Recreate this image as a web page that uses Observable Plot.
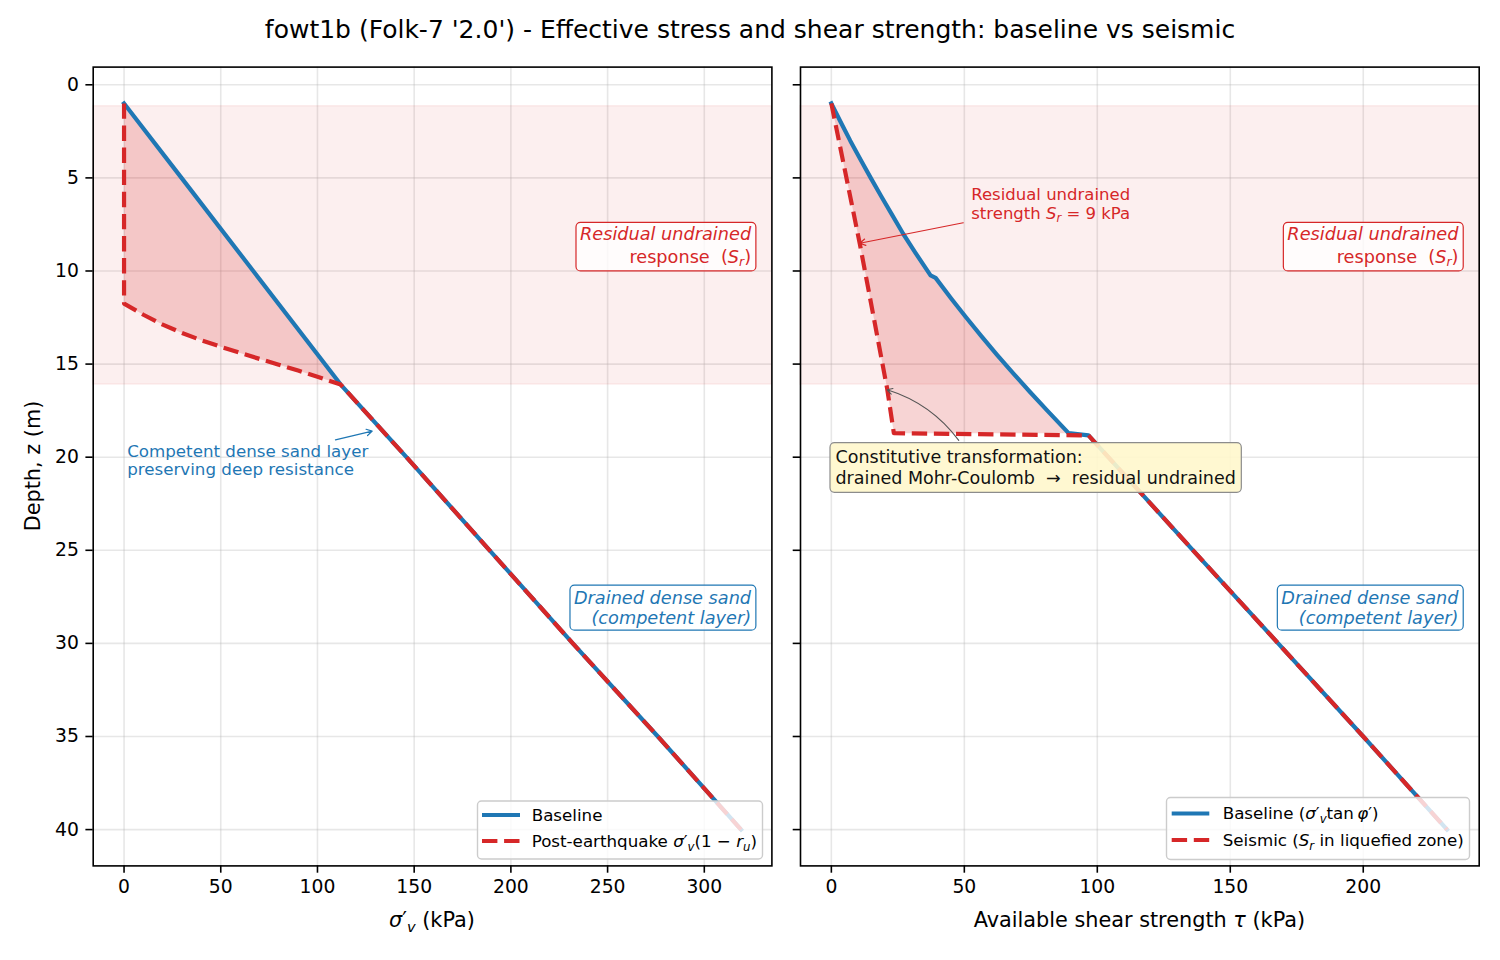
<!DOCTYPE html>
<html>
<head>
<meta charset="utf-8">
<script src="https://cdn.jsdelivr.net/npm/d3@7"></script>
<script src="https://cdn.jsdelivr.net/npm/@observablehq/plot@0.6"></script>
<style>
  body { margin: 0; background: #fff; font-family: "DejaVu Sans", sans-serif; }
  #fig { position: relative; width: 1500px; height: 960px; overflow: hidden; }
  #title { position: absolute; left: 0; top: 15px; width: 1500px; text-align: center;
           font-size: 25px; line-height: 30px; color: #000; }
  .panel { position: absolute; top: 0; }
</style>
</head>
<body>
<div id="fig">
  <div id="title">fowt1b (Folk-7 '2.0') - Effective stress and shear strength: baseline vs seismic</div>
</div>
<script>
// ---- profile data (depth in m, stresses in kPa) ----
const depthSigma    = [1, 5, 10, 16.1, 20, 25, 30, 35, 40];
const sigmaBaseline = [0, 29.7, 66.8, 112, 146, 189, 232, 276, 319];

// post-earthquake sigma'_v (1 - r_u) inside the liquefiable layer
const depthPost = [1, 11.75, 12.35, 12.88, 13.33, 13.72, 14.07, 14.4, 14.72, 15.03, 15.35, 15.68, 16.1];
const sigmaPost = [0, 0, 10, 20, 30, 40, 50, 60, 70, 80, 90, 100, 112];

// drained shear strength sigma'_v tan(phi')
const depthTau    = [1, 2, 3, 4, 5, 6, 7, 8, 9, 10.24, 10.37, 11.5, 12.5, 13.5, 14.5, 15.5, 16.5, 17.5, 18.71, 18.83, 25, 30, 35, 40];
const tauBaseline = [0, 3.5, 7.1, 10.9, 14.8, 18.8, 22.9, 27.0, 31.5, 37.3, 39.2, 45.2, 50.7, 56.4, 62.3, 68.4, 74.7, 81.2, 89.2, 96.7, 136, 168, 200, 231.5];

// seismic strength in the liquefied zone
const depthSeis = [1, 8.54, 16.33, 18.71];
const tauSeis   = [0, 10.7, 21, 23.5];

// liquefiable layer extent
const liqZone = [1.15, 16.1];

const depthTicks = [0, 5, 10, 15, 20, 25, 30, 35, 40];
const sigmaTicks = [0, 50, 100, 150, 200, 250, 300];
const tauTicks   = [0, 50, 100, 150, 200];

// ---- styling ----
const BLUE = "#1f77b4", RED = "#d62728";
const FONT = "'DejaVu Sans', sans-serif";
const H = 960, MT = 66.6, MB = 94.6;
const yDomain = [-0.95, 41.95];
const LW = 4.2, DASH = "15.4,6.7";
const NS = "http://www.w3.org/2000/svg";

const profile = (zs, vs) => zs.map((z, i) => ({z, v: vs[i]}));

const baseL = profile(depthSigma, sigmaBaseline);
const zPostEnd = depthPost[depthPost.length - 1];
const postL = profile(depthPost, sigmaPost).concat(baseL.filter(d => d.z > zPostEnd));
const ringL = baseL.filter(d => d.z <= zPostEnd).concat(profile(depthPost, sigmaPost).reverse());

const baseR = profile(depthTau, tauBaseline);
const zSeisEnd = depthSeis[depthSeis.length - 1];
const seisR = profile(depthSeis, tauSeis).concat(baseR.filter(d => d.z > zSeisEnd));
const ringR = baseR.filter(d => d.z <= zSeisEnd).concat(profile(depthSeis, tauSeis).reverse());

function backdrop(xDomain, xTicks) {
  return [
    Plot.gridX(xTicks, {stroke: "#b0b0b0", strokeOpacity: 0.3, strokeWidth: 1.6}),
    Plot.gridY(depthTicks, {stroke: "#b0b0b0", strokeOpacity: 0.3, strokeWidth: 1.6}),
    Plot.rect([liqZone], {x1: xDomain[0], x2: xDomain[1], y1: d => d[0], y2: d => d[1],
      fill: RED, fillOpacity: 0.075, stroke: RED, strokeOpacity: 0.07, strokeWidth: 1.5})
  ];
}

function curves(ring, base, alt) {
  return [
    Plot.line(ring, {x: "v", y: "z", fill: RED, fillOpacity: 0.2, stroke: "none"}),
    Plot.line(base, {x: "v", y: "z", stroke: BLUE, strokeWidth: LW, strokeLinejoin: "round", strokeLinecap: "square"}),
    Plot.line(alt, {x: "v", y: "z", stroke: RED, strokeWidth: LW, strokeDasharray: DASH,
      strokeLinejoin: "round", strokeLinecap: "butt"})
  ];
}

function axes(xTicks, yLabels) {
  return [
    Plot.frame({stroke: "#000", strokeWidth: 1.6}),
    Plot.axisX(xTicks, {tickSize: 7.3, tickPadding: 6, strokeWidth: 1.6, fontSize: 18.75, label: null}),
    Plot.axisY(depthTicks, {tickSize: 7.3, tickPadding: 7, strokeWidth: 1.6, fontSize: 18.75, label: null,
      tickFormat: yLabels ? (d => String(d)) : (() => "")})
  ];
}

const boxText = (x, y, lines, color, lh) => Plot.text([{x, y, t: lines}], {
  x: "x", y: "y", text: "t", textAnchor: "end", lineAnchor: "middle", fontStyle: "italic",
  fontSize: 17.7, lineHeight: lh, fill: color
});

// ---- left panel: effective vertical stress ----
const xDomL = [-15.95, 334.95];
const left = Plot.plot({
  width: 785, height: H, marginLeft: 92.7, marginRight: 13.6, marginTop: MT, marginBottom: MB,
  style: {fontFamily: FONT, fontSize: "18.75px", color: "#000", background: "transparent", overflow: "visible"},
  x: {domain: xDomL, label: null},
  y: {domain: yDomain, reverse: true, label: null},
  marks: [
    ...backdrop(xDomL, sigmaTicks),
    ...curves(ringL, baseL, postL),
    Plot.text([{x: 1.6, y: 20.18, t: "Competent dense sand layer\npreserving deep resistance"}], {
      x: "x", y: "y", text: "t", textAnchor: "start", lineAnchor: "middle", fontSize: 16.7,
      lineHeight: 1.02, fill: BLUE}),
    Plot.arrow([{x1: 109.3, y1: 19.07, x2: 128.3, y2: 18.6}], {
      x1: "x1", y1: "y1", x2: "x2", y2: "y2", stroke: BLUE, strokeWidth: 1.2, headLength: 8}),
    boxText(324.2, 8.55, "Residual undrained\nresponse  (Sr)", RED, 1.28),
    boxText(324.2, 28.06, "Drained dense sand\n(competent layer)", BLUE, 1.13),
    ...axes(sigmaTicks, true)
  ]
});

// ---- right panel: available shear strength ----
const xDomR = [-11.6, 243.6];
const right = Plot.plot({
  width: 715, height: H, marginLeft: 15, marginRight: 21.3, marginTop: MT, marginBottom: MB,
  style: {fontFamily: FONT, fontSize: "18.75px", color: "#000", background: "transparent", overflow: "visible"},
  x: {domain: xDomR, label: null},
  y: {domain: yDomain, reverse: true, label: null},
  marks: [
    ...backdrop(xDomR, tauTicks),
    ...curves(ringR, baseR, seisR),
    Plot.text([{x: 52.6, y: 6.35, t: "Residual undrained\nstrength Sr = 9 kPa"}], {
      x: "x", y: "y", text: "t", textAnchor: "start", lineAnchor: "middle", fontSize: 16.5,
      lineHeight: 1.15, fill: RED}),
    Plot.arrow([{x1: 49.6, y1: 7.41, x2: 10.7, y2: 8.51}], {
      x1: "x1", y1: "y1", x2: "x2", y2: "y2", stroke: RED, strokeWidth: 1.2, headLength: 8}),
    Plot.arrow([{x1: 47.9, y1: 19.1, x2: 21.0, y2: 16.38}], {
      x1: "x1", y1: "y1", x2: "x2", y2: "y2", stroke: "#555", strokeWidth: 1.1, headLength: 8, bend: -18}),
    Plot.text([{x: 1.56, y: 20.52, t: "Constitutive transformation:\ndrained Mohr-Coulomb  \u2192  residual undrained"}], {
      x: "x", y: "y", text: "t", textAnchor: "start", lineAnchor: "middle", fontSize: 17.5,
      lineHeight: 1.18, fill: "#111"}),
    boxText(235.8, 8.55, "Residual undrained\nresponse  (Sr)", RED, 1.28),
    boxText(235.8, 28.06, "Drained dense sand\n(competent layer)", BLUE, 1.13),
    ...axes(tauTicks, false)
  ]
});

const fig = document.getElementById("fig");
[[left, 0], [right, 785]].forEach(([svg, x]) => {
  svg.classList.add("panel");
  svg.style.left = x + "px";
  fig.appendChild(svg);
});

// ---- rich text helpers (italic math letters and subscripts) ----
function rich(node, parts, size) {
  const sel = d3.select(node);
  sel.text(null);
  let down = 0;
  for (const p of parts) {
    const ts = sel.append("tspan").text(p.t);
    if (p.it) ts.attr("font-style", "italic");
    if (p.sub) {
      ts.attr("font-size", size * 0.7);
      if (!down) { ts.attr("dy", size * 0.22); down = size * 0.22; }
    } else {
      ts.attr("font-style", p.it ? "italic" : "normal");
      if (down) { ts.attr("dy", -down); down = 0; }
    }
  }
}

function richify(svg, plain, parts, size) {
  svg.querySelectorAll("text, tspan").forEach(el => {
    if (el.childNodes.length === 1 && el.firstChild.nodeType === 3 && el.textContent === plain) {
      rich(el, parts, size);
    }
  });
}

const S_r = [{t: "S", it: true}, {t: "r", it: true, sub: true}];
[left, right].forEach(svg => richify(svg, "response  (Sr)", [{t: "response  ("}, ...S_r, {t: ")", it: false}], 17.7));
richify(right, "strength Sr = 9 kPa", [{t: "strength "}, ...S_r, {t: " = 9 kPa"}], 16.5);

// boxes behind annotation texts
function boxAround(svg, startsWith, {fill, fillOpacity, stroke, strokeWidth, padX, padY}) {
  const t = Array.from(svg.querySelectorAll("text")).find(e => e.textContent.startsWith(startsWith));
  if (!t) return;
  const b = t.getBBox();
  const r = document.createElementNS(NS, "rect");
  r.setAttribute("x", b.x - padX);
  r.setAttribute("y", b.y - padY);
  r.setAttribute("width", b.width + 2 * padX);
  r.setAttribute("height", b.height + 2 * padY);
  r.setAttribute("rx", 4.5);
  r.setAttribute("fill", fill);
  r.setAttribute("fill-opacity", fillOpacity);
  r.setAttribute("stroke", stroke);
  r.setAttribute("stroke-width", strokeWidth);
  r.setAttribute("font-style", "normal");
  if (t.getAttribute("transform")) r.setAttribute("transform", t.getAttribute("transform"));
  t.parentNode.insertBefore(r, t);
}
[left, right].forEach(svg => {
  boxAround(svg, "Residual undrainedresponse", {fill: "#fff", fillOpacity: 0.8, stroke: RED, strokeWidth: 1.2, padX: 4, padY: 1.5});
  boxAround(svg, "Drained dense sand", {fill: "#fff", fillOpacity: 0.8, stroke: BLUE, strokeWidth: 1.2, padX: 4, padY: 2.5});
});
boxAround(right, "Constitutive", {fill: "#fff7cc", fillOpacity: 0.9, stroke: "#8c8c8c", strokeWidth: 1.2, padX: 5.5, padY: 4.5});

// ---- axis titles ----
function label(svg, x, y, parts, size, rotate) {
  const t = d3.select(svg).append("text")
    .attr("x", x).attr("y", y).attr("dy", "0.35em")
    .attr("text-anchor", "middle").attr("font-size", size).attr("fill", "#000");
  if (rotate) t.attr("transform", `rotate(${rotate},${x},${y})`);
  rich(t.node(), parts, size);
}
label(left, 432, 920, [{t: "\u03c3", it: true}, {t: "\u2032"}, {t: "v", it: true, sub: true}, {t: " (kPa)"}], 20.8);
label(right, 1139.4 - 785, 920, [{t: "Available shear strength "}, {t: "\u03c4", it: true}, {t: " (kPa)"}], 20.8);
label(left, 33, 466, [{t: "Depth, z (m)"}], 20.8, -90);

// ---- legends ----
function legend(svg, box, rows) {
  const g = d3.select(svg).append("g");
  g.append("rect").attr("x", box.x).attr("y", box.y).attr("width", box.w).attr("height", box.h)
    .attr("rx", 4).attr("fill", "#fff").attr("fill-opacity", 0.8)
    .attr("stroke", "#cccccc").attr("stroke-width", 1.4);
  rows.forEach(r => {
    g.append("line").attr("x1", r.lx1).attr("x2", r.lx2).attr("y1", r.y).attr("y2", r.y)
      .attr("stroke", r.color).attr("stroke-width", LW)
      .attr("stroke-dasharray", r.dash ? DASH : null);
    const t = g.append("text").attr("x", r.tx).attr("y", r.y).attr("dy", "0.35em")
      .attr("font-size", 16.7).attr("fill", "#000").attr("text-anchor", "start");
    rich(t.node(), r.parts, 16.7);
  });
}
const sigV = [{t: "\u03c3", it: true}, {t: "\u2032"}, {t: "v", it: true, sub: true}];
legend(left, {x: 477.5, y: 801, w: 285, h: 58}, [
  {lx1: 482, lx2: 520, y: 815, tx: 531.7, color: BLUE, parts: [{t: "Baseline"}]},
  {lx1: 482, lx2: 520, y: 841, tx: 531.7, color: RED, dash: true,
   parts: [{t: "Post-earthquake "}, ...sigV, {t: "(1 \u2212 "}, {t: "r", it: true}, {t: "u", it: true, sub: true}, {t: ")"}]}
]);
legend(right, {x: 381.5, y: 797.5, w: 303, h: 62}, [
  {lx1: 386.7, lx2: 424.3, y: 813.5, tx: 437.7, color: BLUE,
   parts: [{t: "Baseline ("}, ...sigV, {t: "tan\u2009"}, {t: "\u03c6", it: true}, {t: "\u2032)"}]},
  {lx1: 386.7, lx2: 424.3, y: 840, tx: 437.7, color: RED, dash: true,
   parts: [{t: "Seismic ("}, ...S_r, {t: " in liquefied zone)"}]}
]);
</script>
</body>
</html>
